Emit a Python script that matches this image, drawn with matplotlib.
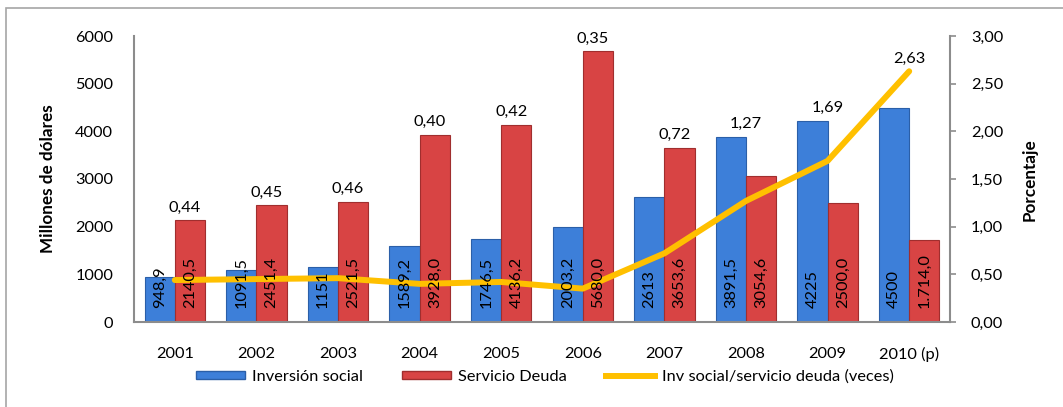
import numpy as np
import matplotlib.pyplot as plt
from matplotlib.patches import Patch, Rectangle
from matplotlib.lines import Line2D

plt.rcParams['font.family'] = ['Lato', 'DejaVu Sans']

years = ['2001', '2002', '2003', '2004', '2005', '2006', '2007', '2008', '2009', '2010 (p)']
inversion = [948.9, 1091.5, 1151, 1589.2, 1746.5, 2003.2, 2613, 3891.5, 4225, 4500]
servicio = [2140.5, 2451.4, 2521.5, 3928.0, 4136.2, 5680.0, 3653.6, 3054.6, 2500.0, 1714.0]
ratio = [0.44, 0.45, 0.46, 0.40, 0.42, 0.35, 0.72, 1.27, 1.69, 2.63]
inv_labels = ['948,9', '1091,5', '1151', '1589,2', '1746,5', '2003,2', '2613', '3891,5', '4225', '4500']
serv_labels = ['2140,5', '2451,4', '2521,5', '3928,0', '4136,2', '5680,0', '3653,6', '3054,6', '2500,0', '1.714,0']
ratio_labels = ['0,44', '0,45', '0,46', '0,40', '0,42', '0,35', '0,72', '1,27', '1,69', '2,63']

blue = '#3D7FD9'
red = '#D84444'
gold = '#FFC000'
axis_gray = '#8C8C8C'
fs = 11.8

fig = plt.figure(figsize=(10.63, 4.07), dpi=100)
fig.patches.append(Rectangle((6 / 1063, -0.05), 1.1, 1 - 8 / 407 + 0.05,
                             transform=fig.transFigure, fill=False,
                             edgecolor='#A6A6A6', lw=1.2, clip_on=False))

ax = fig.add_axes([134 / 1063, 85 / 407, 816 / 1063, 286 / 407])
ax2 = ax.twinx()

x = np.arange(len(years))
w = 0.37
ax.bar(x - w / 2, inversion, w, color=blue, edgecolor='#2B5FA8', linewidth=0.8, zorder=2)
ax.bar(x + w / 2, servicio, w, color=red, edgecolor='#A02E2E', linewidth=0.8, zorder=2)

ax.set_xlim(-0.5, len(years) - 0.5)
ax.set_ylim(0, 6000)
ax.set_yticks(range(0, 6001, 1000))
ax.set_xticks(x)
ax.set_xticklabels(years)
ax.tick_params(axis='y', length=0, pad=15, labelsize=fs)
ax.tick_params(axis='x', length=0, pad=18, labelsize=fs)
for s in ['top', 'right']:
    ax.spines[s].set_visible(False)
for s in ['left', 'bottom']:
    ax.spines[s].set_color(axis_gray)
    ax.spines[s].set_linewidth(1.5)

ax2.plot(x, ratio, color=gold, linewidth=4.3, solid_capstyle='round', zorder=4)
ax2.set_ylim(0, 3)
ax2.set_yticks(np.arange(0, 3.01, 0.5))
ax2.set_yticklabels([('%.2f' % v).replace('.', ',') for v in np.arange(0, 3.01, 0.5)])
ax2.tick_params(axis='y', length=4, width=1.2, color=axis_gray, pad=11, labelsize=fs)
for s in ['top', 'left', 'bottom']:
    ax2.spines[s].set_visible(False)
ax2.spines['right'].set_color(axis_gray)
ax2.spines['right'].set_linewidth(1.5)

# value labels inside the bars, drawn over the line
for i in range(len(years)):
    ax2.annotate(inv_labels[i], (x[i] - w / 2, 0), xycoords=ax.transData, xytext=(0, 10),
                 textcoords='offset points', rotation=90, ha='center', va='bottom',
                 fontsize=fs, zorder=6)
    ax2.annotate(serv_labels[i], (x[i] + w / 2, 0), xycoords=ax.transData, xytext=(0, 10),
                 textcoords='offset points', rotation=90, ha='center', va='bottom',
                 fontsize=fs, zorder=6)

# ratio labels above the tallest element of each group
for i in range(len(years)):
    top = max(inversion[i], servicio[i], ratio[i] * 2000)
    dx = w / 3 if servicio[i] > inversion[i] else 0
    ax2.annotate(ratio_labels[i], (x[i] + dx, top), xycoords=ax.transData, xytext=(0, 4),
                 textcoords='offset points', ha='center', va='bottom', fontsize=fs, zorder=6)

fig.text(48 / 1063, 1 - 179 / 407, 'Millones de dólares', rotation=90, ha='center', va='center',
         fontsize=12.3, fontweight='bold')
fig.text(1030 / 1063, 1 - 180 / 407, 'Porcentaje', rotation=90, ha='center', va='center',
         fontsize=12.3, fontweight='bold')

handles = [Patch(facecolor=blue, edgecolor='#2B5FA8'),
           Patch(facecolor=red, edgecolor='#A02E2E'),
           Line2D([0], [0], color=gold, linewidth=4.3)]
labels = ['Inversión social', 'Servicio Deuda', 'Inv social/servicio deuda (veces)']
fig.legend(handles, labels, loc='center', bbox_to_anchor=(545 / 1063, 1 - 377 / 407),
           ncol=3, frameon=False, fontsize=fs, handlelength=3.0, handleheight=0.4,
           handletextpad=0.4, columnspacing=2.4)

fig.savefig('out.png', dpi=100)
